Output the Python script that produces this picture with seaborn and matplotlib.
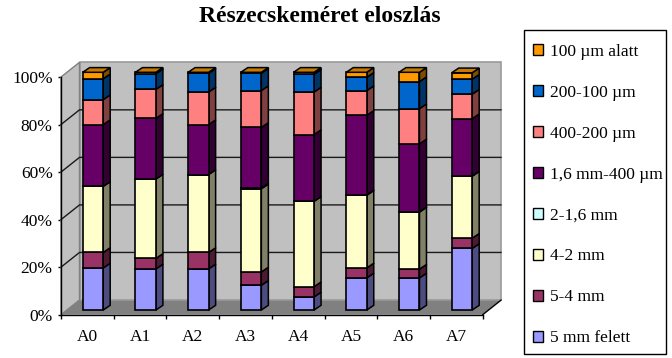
import numpy as np
import pandas as pd
import matplotlib
matplotlib.use("Agg")
import matplotlib.pyplot as plt
from matplotlib.patches import Patch, Rectangle
from matplotlib.transforms import Affine2D
import seaborn as sns

samples = ["A0", "A1", "A2", "A3", "A4", "A5", "A6", "A7"]
over_5mm = [17.7, 17.3, 17.3, 10.4, 5.5, 13.5, 13.5, 25.9]
mm_5_4 = [6.5, 4.4, 6.9, 5.6, 4.3, 4.2, 3.7, 4.3]
mm_4_2 = [27.8, 33.4, 32.8, 35.0, 35.9, 30.6, 24.0, 26.1]
mm_2_16 = [0.0, 0.0, 0.0, 0.3, 0.0, 0.2, 0.2, 0.2]
mm_16_400um = [26.0, 25.5, 21.0, 25.5, 28.1, 33.4, 28.5, 24.0]
um_400_200 = [10.5, 12.2, 13.7, 15.5, 17.9, 10.4, 14.8, 10.3]
um_200_100 = [8.8, 6.6, 7.9, 7.3, 7.5, 5.6, 11.4, 6.3]
under_100um = [2.7, 0.6, 0.4, 0.4, 0.8, 2.1, 3.9, 2.7]

series_labels = ["5 mm felett", "5-4 mm", "4-2 mm", "2-1,6 mm", "1,6 mm-400 µm",
                 "400-200 µm", "200-100 µm", "100 µm alatt"]
series_values = [over_5mm, mm_5_4, mm_4_2, mm_2_16, mm_16_400um,
                 um_400_200, um_200_100, under_100um]
face_colors = ["#9999FF", "#993366", "#FFFFCC", "#CCFFFF", "#660066",
               "#FF8080", "#0066CC", "#FF9900"]
side_colors = ["#4C4C80", "#4D1A33", "#808066", "#668080", "#330033",
               "#804040", "#003366", "#804C00"]
top_color = "#C67A00"

sns.set_style("white")
plt.rcParams["font.family"] = ["Liberation Serif", "DejaVu Serif"]

W, H = 672, 358
fig = plt.figure(figsize=(W / 100, H / 100), dpi=100)
ax = fig.add_axes([61 / W, (H - 314.7) / H, 421.7 / W, 237.7 / H])
ax.patch.set_alpha(0)

# pixel-to-data factors for the oblique depth of the box and the columns
ux = 8 / 421.7
uy = 100 / 237.7
wall_dx, wall_dy = 18.5 * ux, 14.7 * uy
bar_off_x, bar_off_y = 5.6 * ux, 4.7 * uy
bar_dx, bar_dy = 7 * ux, 4.7 * uy
bar_width = 20.5 * ux

x0, x1 = -0.5, 7.5

# box walls and floor
ax.fill([x0, x1, x1 + wall_dx, x0 + wall_dx], [0, 0, wall_dy, wall_dy],
        color="#808080", lw=0, clip_on=False, zorder=0.5)
ax.fill([x0 + wall_dx, x1 + wall_dx, x1 + wall_dx, x0 + wall_dx],
        [wall_dy, wall_dy, 100 + wall_dy, 100 + wall_dy],
        facecolor="#C0C0C0", edgecolor="#9A9A9A", lw=1.2, clip_on=False, zorder=0.6)
ax.fill([x0, x0 + wall_dx, x0 + wall_dx, x0], [0, wall_dy, 100 + wall_dy, 100],
        facecolor="#C0C0C0", edgecolor="#808080", lw=1, clip_on=False, zorder=0.6)
ax.plot([x1, x1 + wall_dx], [0, wall_dy], color="black", lw=1, clip_on=False, zorder=0.7)
for level in [20, 40, 60, 80]:
    ax.plot([x0, x0 + wall_dx, x1 + wall_dx],
            [level, level + wall_dy, level + wall_dy],
            color="#1A1A1A", lw=1, clip_on=False, zorder=0.8)

# stacked columns
frame = pd.DataFrame(dict(zip(series_labels, series_values)), index=samples)
bottoms = np.zeros(len(samples))
shift = Affine2D().translate(bar_off_x, bar_off_y) + ax.transData
for label, face, side in zip(series_labels, face_colors, side_colors):
    values = frame[label].to_numpy()
    before = len(ax.patches)
    sns.barplot(x=samples, y=values, bottom=bottoms, color=face, saturation=1,
                width=bar_width, edgecolor="black", linewidth=1.2,
                errorbar=None, ax=ax, zorder=3)
    for patch in ax.patches[before:]:
        patch.set_transform(shift)
        patch.set_clip_on(False)
    for i in range(len(samples)):
        if values[i] <= 0:
            continue
        xr = i + bar_width / 2 + bar_off_x
        lo = bottoms[i] + bar_off_y
        hi = lo + values[i]
        ax.fill([xr, xr + bar_dx, xr + bar_dx, xr],
                [lo, lo + bar_dy, hi + bar_dy, hi],
                facecolor=side, edgecolor="black", lw=1.1, clip_on=False, zorder=2.9)
    bottoms = bottoms + values

# caps of the columns
for i, total in enumerate(bottoms):
    xl = i - bar_width / 2 + bar_off_x
    xr = xl + bar_width
    top = total + bar_off_y
    ax.fill([xl, xr, xr + bar_dx, xl + bar_dx],
            [top, top, top + bar_dy, top + bar_dy],
            facecolor=top_color, edgecolor="black", lw=1.1, clip_on=False, zorder=3.1)

ax.set_xlim(x0, x1)
ax.set_ylim(0, 100)
ax.set_xlabel("")
ax.set_ylabel("")
sns.despine(ax=ax, top=True, right=True)
for name in ["left", "bottom"]:
    ax.spines[name].set_color("black")
    ax.spines[name].set_linewidth(1)
    ax.spines[name].set_zorder(1)

ax.set_xticks(np.arange(x0, x1 + 0.5, 1))
ax.set_xticklabels([])
ax.set_xticks(range(len(samples)), labels=samples, minor=True)
ax.set_yticks(range(0, 101, 20), labels=[f"{v}%" for v in range(0, 101, 20)])
ax.tick_params(axis="x", which="major", length=3, width=1, color="black", bottom=True)
ax.tick_params(axis="x", which="minor", length=0, labelsize=12.5, pad=10.5, labelcolor="black", bottom=False)
ax.tick_params(axis="y", length=2.5, width=1, color="black", left=True, labelsize=12.5,
               pad=3.5, labelcolor="black")

fig.text(319.5 / W, (H - 16) / H, "Részecskeméret eloszlás", ha="center", va="center",
         fontsize=17, fontweight="bold", color="black")

# legend box, with its entries set inside it
fig.add_artist(Rectangle((524.3 / W, (H - 354) / H), 141.7 / W, 324.5 / H,
                         transform=fig.transFigure, facecolor="white",
                         edgecolor="black", lw=1))
handles = [Patch(facecolor=c, edgecolor="black", lw=1) for c in face_colors[::-1]]
legend = fig.legend(handles, series_labels[::-1], loc="upper left",
                    bbox_to_anchor=(532.5 / W, (H - 44) / H), borderaxespad=0,
                    fontsize=12.5, frameon=False,
                    handlelength=0.605, handleheight=0.605, handletextpad=0.375,
                    labelspacing=1.434, borderpad=0, labelcolor="black")

fig.savefig("out.png", dpi=100, facecolor="white")
